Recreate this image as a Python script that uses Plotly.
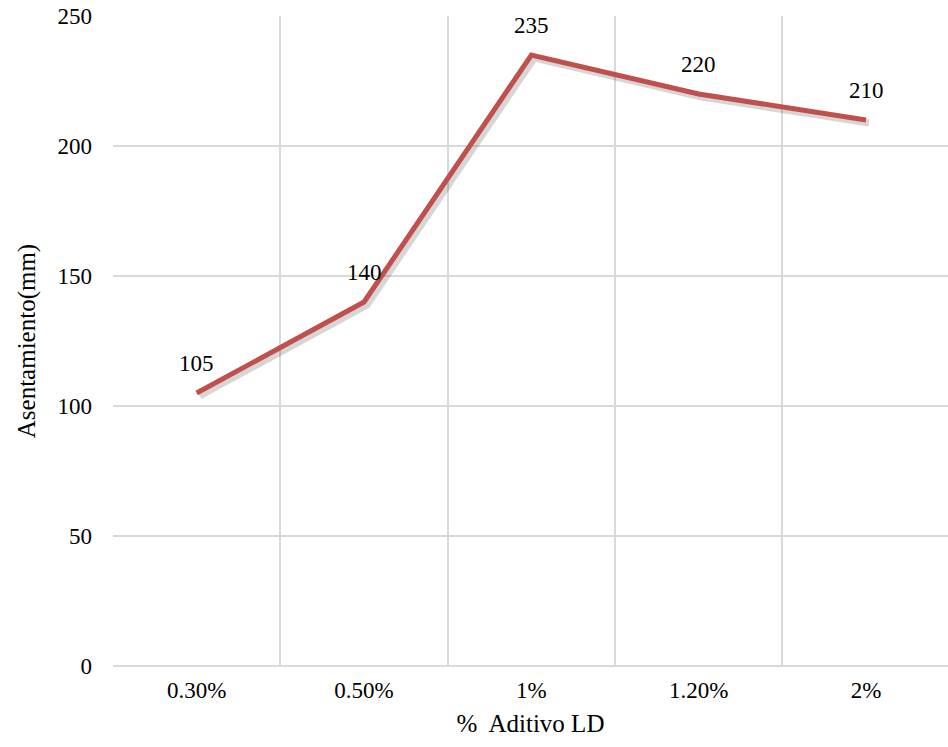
import plotly.graph_objects as go

categories = ["0.30%", "0.50%", "1%", "1.20%", "2%"]
asentamiento = [105, 140, 235, 220, 210]
y_ticks = [0, 50, 100, 150, 200, 250]

FONT = '"Liberation Serif", "Times New Roman", "DejaVu Serif", serif'
GRID = "#d9d9d9"
LINE = "#C0504D"

W, H = 948, 747
ML, MT, MB, MR = 113, 16, 81, 0
xr = [-0.5, 4.49]
yr = [0, 250]
px_per_x = (W - ML - MR) / (xr[1] - xr[0])
px_per_y = (H - MT - MB) / (yr[1] - yr[0])
sh = 3  # shadow offset in px
dx = sh / px_per_x
dy = sh / px_per_y

fig = go.Figure()

# invisible trace that sets up the main (labelled) axes
fig.add_trace(go.Scatter(
    x=categories, y=asentamiento, mode="lines",
    line=dict(color="rgba(0,0,0,0)", width=0),
    hoverinfo="skip", showlegend=False,
))

# shadow (overlay axes shifted by a few pixels)
fig.add_trace(go.Scatter(
    x=list(range(len(categories))), y=asentamiento, mode="lines",
    line=dict(color="rgba(0,0,0,0.16)", width=7),
    xaxis="x2", yaxis="y2", hoverinfo="skip", showlegend=False,
))

# main line on top
fig.add_trace(go.Scatter(
    x=list(range(len(categories))), y=asentamiento, mode="lines",
    line=dict(color=LINE, width=5),
    xaxis="x3", yaxis="y3", showlegend=False,
))

for c, v in zip(categories, asentamiento):
    fig.add_annotation(
        x=c, y=v, text=str(v), showarrow=False, yshift=30,
        font=dict(family=FONT, size=23, color="#000000"),
    )

fig.update_layout(
    width=W, height=H,
    margin=dict(l=ML, r=MR, t=MT, b=MB),
    paper_bgcolor="white", plot_bgcolor="white",
    font=dict(family=FONT, size=23, color="#000000"),
    xaxis=dict(
        type="category", range=xr, tickson="boundaries",
        showgrid=True, gridcolor=GRID, gridwidth=1.5,
        ticks="", showline=False, zeroline=False,
        tickfont=dict(family=FONT, size=23),
        ticklabelstandoff=8,
        title=dict(text="%  Aditivo LD", font=dict(family=FONT, size=25), standoff=12),
    ),
    yaxis=dict(
        range=yr, tickvals=y_ticks,
        showgrid=True, gridcolor=GRID, gridwidth=1.5,
        zeroline=True, zerolinecolor=GRID, zerolinewidth=2,
        ticks="", showline=False,
        tickfont=dict(family=FONT, size=23),
        ticklabelstandoff=20,
        title=dict(text="Asentamiento(mm)", font=dict(family=FONT, size=25), standoff=14),
    ),
    xaxis2=dict(overlaying="x", range=[xr[0] - dx, xr[1] - dx], visible=False),
    yaxis2=dict(overlaying="y", range=[yr[0] + dy, yr[1] + dy], visible=False),
    xaxis3=dict(overlaying="x", range=xr, visible=False),
    yaxis3=dict(overlaying="y", range=yr, visible=False),
)

fig.write_html("out.html")
